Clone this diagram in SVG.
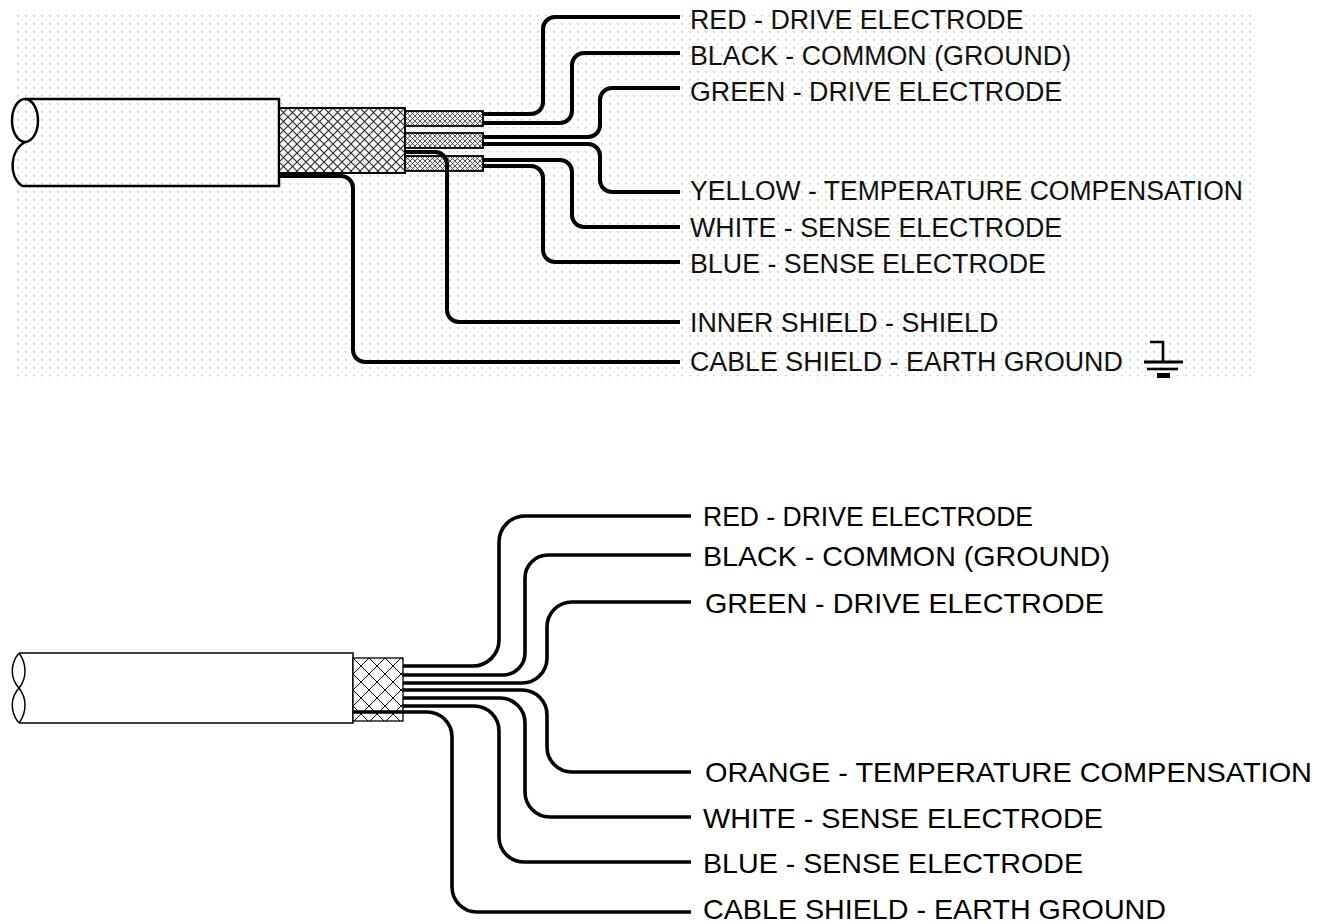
<svg xmlns="http://www.w3.org/2000/svg" width="1332" height="924" viewBox="0 0 1332 924">
<defs>
<pattern id="dots" width="8" height="8" patternUnits="userSpaceOnUse" x="14" y="12">
<rect x="3" y="3" width="1.5" height="1.5" fill="#c4c4c4"/>
<rect x="7" y="7" width="1" height="1" fill="#dedede"/>
</pattern>
<pattern id="hatchBig" width="9" height="9" patternUnits="userSpaceOnUse" x="279" y="108">
<rect width="9" height="9" fill="#f7f7f7"/>
<path d="M0,0 L9,9 M9,0 L0,9" stroke="#2a2a2a" stroke-width="1.1"/>
</pattern>
<pattern id="hatchSmall" width="5" height="5" patternUnits="userSpaceOnUse" x="405" y="111">
<rect width="5" height="5" fill="#eeeeee"/>
<path d="M0,0 L5,5 M5,0 L0,5" stroke="#444" stroke-width="0.9"/>
</pattern>
<pattern id="hatchB" width="16" height="16" patternUnits="userSpaceOnUse" x="353" y="658">
<rect width="16" height="16" fill="#ffffff"/>
<path d="M0,0 L16,16 M16,0 L0,16" stroke="#000" stroke-width="1"/>
</pattern>
<style>
.wt{fill:none;stroke:#000;stroke-width:4;stroke-linecap:butt}
.wb{fill:none;stroke:#000;stroke-width:3.6;stroke-linecap:butt}
.lt{font-family:"Liberation Sans",Arial,sans-serif;font-size:26.8px;fill:#111}
.lb{font-family:"Liberation Sans",Arial,sans-serif;font-size:28px;fill:#000}
</style>
</defs>
<rect width="1332" height="924" fill="#fff"/>

<!-- TOP DIAGRAM -->
<rect id="top-background" x="14" y="12" width="1242" height="366" fill="url(#dots)"/>

<g id="top-jacket" fill="none" stroke="#000" stroke-width="2.5">
<path d="M25,99 H279 V186 H22"/>
<ellipse cx="25" cy="120.5" rx="13" ry="21.5"/>
<path d="M25,142 C10,150 8,176 22,186"/>
</g>
<g id="top-braid">
<rect x="279" y="108" width="126" height="65" fill="url(#hatchBig)" stroke="#000" stroke-width="2"/>
</g>
<g id="top-pairs" stroke="#000" stroke-width="1.8">
<rect x="405" y="111" width="78" height="15" fill="url(#hatchSmall)"/>
<rect x="405" y="133" width="78" height="15" fill="url(#hatchSmall)"/>
<rect x="405" y="156" width="78" height="15" fill="url(#hatchSmall)"/>
</g>

<g id="top-connectors">
<path class="wt" d="M483,114 H531 A12,12 0 0 0 543,102 V29 A12,12 0 0 1 555,17 H680"/>
<path class="wt" d="M483,123 H560 A12,12 0 0 0 572,111 V65 A12,12 0 0 1 584,53 H680"/>
<path class="wt" d="M483,137 H588 A12,12 0 0 0 600,125 V100 A12,12 0 0 1 612,88 H680"/>
<path class="wt" d="M483,144 H588 A12,12 0 0 1 600,156 V180 A12,12 0 0 0 612,192 H680"/>
<path class="wt" d="M483,160 H560 A12,12 0 0 1 572,172 V215 A12,12 0 0 0 584,227 H680"/>
<path class="wt" d="M483,166 H531 A12,12 0 0 1 543,178 V250 A12,12 0 0 0 555,262 H680"/>
<path class="wt" stroke-width="5" d="M405,152 H435 A12,12 0 0 1 447,164 V310 A12,12 0 0 0 459,322 H680"/>
<path class="wt" stroke-width="5.5" d="M279,176 H341 A12,12 0 0 1 353,188 V350 A12,12 0 0 0 365,362 H680"/>
</g>

<g id="top-labels">
<text class="lt" x="690" y="29">RED - DRIVE ELECTRODE</text>
<text class="lt" x="690" y="65">BLACK - COMMON (GROUND)</text>
<text class="lt" x="690" y="101">GREEN - DRIVE ELECTRODE</text>
<text class="lt" x="690" y="200" textLength="553" lengthAdjust="spacingAndGlyphs">YELLOW - TEMPERATURE COMPENSATION</text>
<text class="lt" x="690" y="237">WHITE - SENSE ELECTRODE</text>
<text class="lt" x="690" y="273">BLUE - SENSE ELECTRODE</text>
<text class="lt" x="690" y="332">INNER SHIELD - SHIELD</text>
<text class="lt" x="690" y="371">CABLE SHIELD - EARTH GROUND</text>
</g>

<g id="ground-symbol" stroke="#000" fill="none">
<path d="M1150,342 H1163 V361" stroke-width="2.6"/>
<line x1="1144" y1="362" x2="1183" y2="362" stroke-width="3"/>
<line x1="1147" y1="369" x2="1178" y2="369" stroke-width="2.6"/>
<rect x="1157" y="373" width="13" height="5" fill="#000" stroke="none"/>
</g>

<!-- BOTTOM DIAGRAM -->
<g id="bottom-jacket" fill="none" stroke="#000" stroke-width="1.5">
<path d="M19,653 H353 V723 H19" fill="#fff"/>
<path d="M19,653 C10,664 10,678 19,688 C10,698 10,712 19,723"/>
<path d="M19,653 C27,664 27,678 19,688 C27,698 27,712 19,723"/>
</g>
<g id="bottom-braid">
<rect x="353" y="658" width="50" height="63" fill="url(#hatchB)" stroke="#000" stroke-width="1.3"/>
</g>

<g id="bottom-connectors">
<path class="wb" d="M403,666 H473 A26,26 0 0 0 499,640 V542 A26,26 0 0 1 525,516 H691"/>
<path class="wb" d="M403,675 H503 A22,22 0 0 0 525,653 V578 A23,23 0 0 1 548,555 H691"/>
<path class="wb" d="M403,683 H522 A25,25 0 0 0 547,658 V627 A25,25 0 0 1 572,602 H691"/>
<path class="wb" d="M403,690 H522 A25,25 0 0 1 547,715 V747 A25,25 0 0 0 572,772 H691"/>
<path class="wb" d="M403,698 H500 A25,25 0 0 1 525,723 V792 A25,25 0 0 0 550,817 H691"/>
<path class="wb" d="M403,706 H474 A25,25 0 0 1 499,731 V837 A25,25 0 0 0 524,862 H691"/>
<path class="wb" d="M353,712 H427 A25,25 0 0 1 452,737 V887 A25,25 0 0 0 477,912 H691"/>
</g>

<g id="bottom-labels">
<text class="lb" x="703" y="526" textLength="330" lengthAdjust="spacingAndGlyphs">RED - DRIVE ELECTRODE</text>
<text class="lb" x="703" y="566" textLength="407" lengthAdjust="spacingAndGlyphs">BLACK - COMMON (GROUND)</text>
<text class="lb" x="705" y="613" textLength="399" lengthAdjust="spacingAndGlyphs">GREEN - DRIVE ELECTRODE</text>
<text class="lb" x="705" y="782" textLength="607" lengthAdjust="spacingAndGlyphs">ORANGE - TEMPERATURE COMPENSATION</text>
<text class="lb" x="703" y="828" textLength="400" lengthAdjust="spacingAndGlyphs">WHITE - SENSE ELECTRODE</text>
<text class="lb" x="703" y="873" textLength="380" lengthAdjust="spacingAndGlyphs">BLUE - SENSE ELECTRODE</text>
<text class="lb" x="703" y="919" textLength="463" lengthAdjust="spacingAndGlyphs">CABLE SHIELD - EARTH GROUND</text>
</g>
</svg>
